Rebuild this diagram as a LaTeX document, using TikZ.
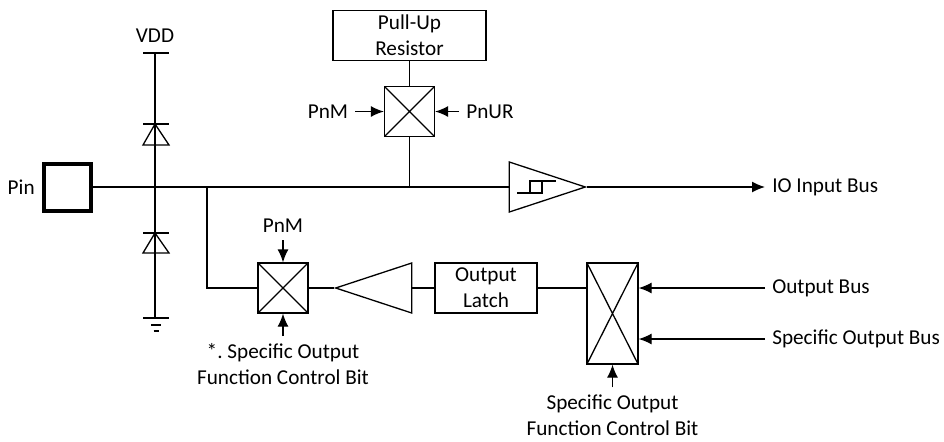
\documentclass[tikz,border=0pt]{standalone}
\usepackage{fontspec}
\setmainfont{Carlito}
\usetikzlibrary{positioning,arrows.meta,shapes.geometric}

\tikzset{
  every node/.style={font=\fontsize{10.6pt}{13pt}\selectfont},
  mux/.style={draw, minimum width=25pt, minimum height=25pt, inner sep=0pt,
    path picture={\draw (path picture bounding box.north west) -- (path picture bounding box.south east)
      (path picture bounding box.north east) -- (path picture bounding box.south west);}},
  block/.style={draw, minimum height=25pt, inner sep=0pt, align=center},
  buffer/.style={draw, isosceles triangle, isosceles triangle stretches,
    minimum width=25pt, minimum height=38pt, inner sep=0pt},
  sig/.style={-{Latex[length=6.5pt,width=5.5pt]}},
}

\begin{document}
\begin{tikzpicture}[x=0.5pt, y=-0.5pt, line width=0.65pt]
    \useasboundingbox (0,0) rectangle (944,441);

    \node[draw, line width=2pt, minimum size=23.5pt, inner sep=0pt] (pin) at (67.5,187) {};
    \node[left=0pt of pin] (pinlbl) {Pin};

    \node (vdd) at (155,36) {VDD};
    \coordinate (vddbar) at (155,53);
    \coordinate (gnd) at (155,318);
    \draw (vddbar) -- (gnd);
    \draw (143,53) -- (169,53);
    \draw (143,318) -- (169,318);
    \draw (151,325) -- (161,325);
    \draw (153.5,331) -- (158.5,331);

    \draw (143,145) -- (169,145) -- (155,124) -- cycle;
    \draw (143,124) -- (169,124);
    \draw (143,253) -- (169,253) -- (155,233) -- cycle;
    \draw (143,233) -- (169,233);

    \node[buffer, anchor=apex] (inbuf) at (587,187) {};
    \draw (517,193) -- (542,193) -- (542,181) (530,193) -- (530,181) -- (556,181);
    \node[right] (iobus) at (765,187) {IO Input Bus};
    \draw (pin) -- (inbuf.lower side);
    \draw[sig] (inbuf.apex) -- (iobus);

    \node[block, minimum width=76.5pt] (pullup) at (409.5,35.5) {Pull-Up\\Resistor};
    \node[mux] (umux) at (409.5,111.5) {};
    \node (pnmu) at (328,111.5) {PnM};
    \node (pnur) at (490,111.5) {PnUR};
    \draw (pullup) -- (umux);
    \draw (umux) -- (umux |- inbuf.lower side);
    \draw[sig] (pnmu) -- (umux);
    \draw[sig] (pnur) -- (umux);

    \coordinate (branch) at (207,187);
    \node[mux] (lmux) at (283,288) {};
    \draw (branch) |- (lmux);
    \node[buffer, shape border rotate=180, anchor=apex] (obuf) at (334,288) {};
    \node[block, minimum width=51pt] (latch) at (486,288) {Output\\Latch};
    \node[mux, minimum width=25.5pt, minimum height=50.5pt] (omux) at (612.5,313.5) {};
    \draw (lmux) -- (obuf.apex);
    \draw (obuf.lower side) -- (latch);
    \draw (latch) -- (latch -| omux.west);

    \node (pnml) at (283,226) {PnM};
    \draw[sig] (pnml) -- (lmux);
    \node[align=center] (ctrl1) at (283,364) {*.\ Specific Output\\Function Control Bit};
    \draw[sig] (ctrl1) -- (lmux);

    \node[right] (obus) at (765,288) {Output Bus};
    \node[right] (sobus) at (765,339) {Specific Output Bus};
    \draw[sig] (obus) -- (obus -| omux.east);
    \draw[sig] (sobus) -- (sobus -| omux.east);
    \node[align=center] (ctrl2) at (612.5,415) {Specific Output\\Function Control Bit};
    \draw[sig] (ctrl2) -- (omux);
\end{tikzpicture}
\end{document}
